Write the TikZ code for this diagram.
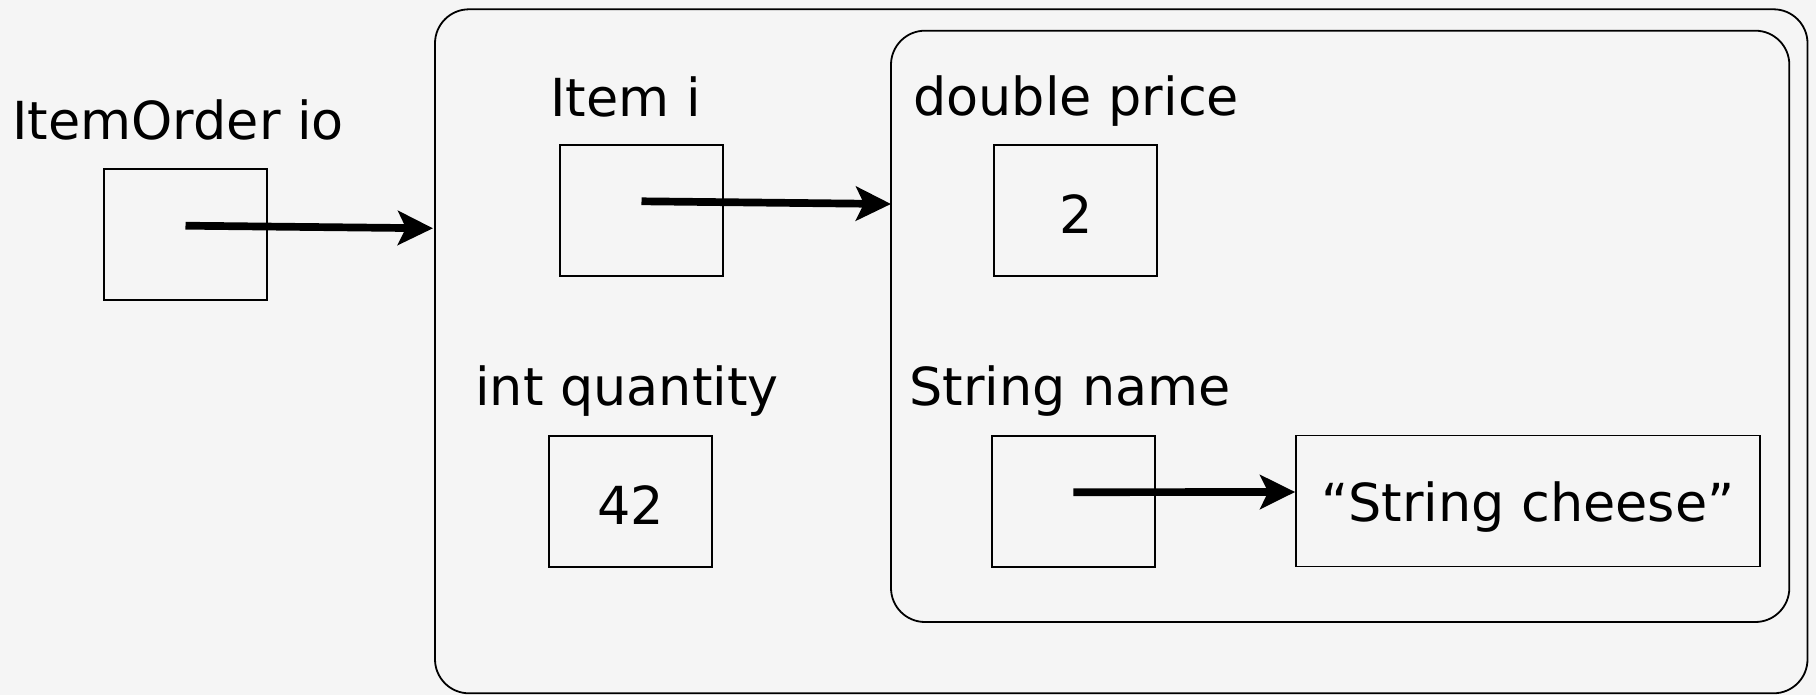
\documentclass[tikz,border=0pt]{standalone}
\usepackage{fontspec}
\setmainfont{DejaVu Sans}
\usetikzlibrary{arrows.meta}

\begin{document}
\begin{tikzpicture}[x=0.5pt,y=-0.5pt,
  every node/.style={font=\fontsize{26.2pt}{31pt}\selectfont},
  cell/.style={draw,line width=0.85pt,minimum width=81.5pt,minimum height=65.5pt,inner sep=0pt,
    text depth=0pt,text height=23.5pt},
  frame/.style={draw,line width=0.9pt,rounded corners=17pt,inner sep=0pt},
  lbl/.style={anchor=base west,inner sep=0pt},
  ptr/.style={line width=3.85pt,-{Stealth[length=17.5pt,width=17pt,inset=4pt]}}]

  \fill[black!4] (0,0) rectangle (1816,695);
  \useasboundingbox (0,0) rectangle (1816,695);

  % objects
  \node[frame,minimum width=686.25pt,minimum height=342pt] (order) at (1121.25,351.3) {};
  \node[frame,minimum width=449.15pt,minimum height=295.65pt] (item) at (1340.15,326.35) {};

  % variables
  \node[lbl] (ioLbl) at (12,140) {ItemOrder io};
  \node[cell] (io) at (185.5,234.5) {};
  \node[lbl] (iLbl) at (550,116.7) {Item i};
  \node[cell] (ibox) at (641.5,210.5) {};
  \node[lbl] (qtyLbl) at (475,405) {int quantity};
  \node[cell] (qty) at (630.6,501.2) {42};
  \node[lbl] (priceLbl) at (913,116) {double price};
  \node[cell] (price) at (1075.75,210.5) {2};
  \node[lbl] (nameLbl) at (909,405) {String name};
  \node[cell] (name) at (1073.25,501.2) {};
  \node[cell,minimum width=232pt,text height=20.7pt] (cheese) at (1528,501) {“String cheese”};

  % references
  \coordinate (orderIn) at (433,228.3);
  \coordinate (itemIn) at (891,204);
  \draw[ptr] ([yshift=4.4pt]io.center) -- (orderIn);
  \draw[ptr] ([yshift=4.6pt]ibox.center) -- (itemIn);
  \draw[ptr] ([yshift=4.5pt]name.center) -- ([yshift=4.5pt]cheese.west);

\end{tikzpicture}
\end{document}
